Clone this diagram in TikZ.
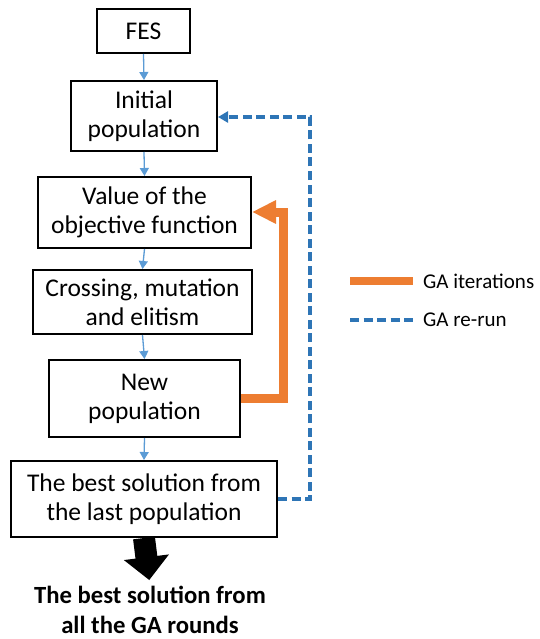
\documentclass[tikz,border=0pt]{standalone}
\usepackage{fontspec}
\setmainfont{Carlito}
\usetikzlibrary{arrows.meta}
\definecolor{gaorange}{HTML}{ED7D31}
\definecolor{gablue}{HTML}{2E75B6}
\definecolor{flowblue}{HTML}{5B9BD5}
\begin{document}
\begin{tikzpicture}[x=1pt,y=-1pt,
  box/.style={draw=black,line width=2pt,align=center,inner sep=0pt,
    font=\fontsize{25.5}{29}\selectfont},
  flow/.style={draw=flowblue,line width=1.3pt,-{Triangle[width=9pt,length=8pt]}},
  iter/.style={draw=gaorange,line width=9pt},
  rerun/.style={draw=gablue,line width=3.2pt,dash pattern=on 9pt off 4.5pt},
  legtext/.style={anchor=west,inner sep=0pt,font=\fontsize{21}{25}\selectfont}]
\useasboundingbox (0,0) rectangle (539,639);
\node[box,minimum width=93pt,minimum height=44pt] (fes) at (143.5,31) {FES};
\node[box,minimum width=146pt,minimum height=70pt] (init) at (144,116) {Initial\\population};
\node[box,minimum width=213pt,minimum height=71pt] (val) at (144.5,212.5) {Value of the\\objective function};
\node[box,minimum width=219pt,minimum height=64pt] (cross) at (142.5,302) {Crossing, mutation\\and elitism};
\node[box,minimum width=191pt,minimum height=77pt] (new) at (144.5,398.5) {New\\population};
\node[box,minimum width=266pt,minimum height=76pt] (best) at (144,499) {The best solution from\\the last population};
\node[align=center,inner sep=0pt,font=\fontsize{24.7}{30}\selectfont\bfseries] (final) at (150,610) {The best solution from\\all the GA rounds};
\draw[flow] (fes.south) -- (init.north);
\draw[flow] (init.south) -- (val.north);
\draw[flow] (val.south) -- (cross.north);
\draw[flow] (cross.south) -- (new.north);
\draw[flow] (new.south) -- (best.north);
\draw[line width=22pt,-{Triangle[width=44pt,length=23pt]},shorten >=6pt] (best.south) -- (final.north);
\coordinate (oc) at (283,212);
\draw[iter,-{Triangle[width=22pt,length=24pt]}] (new.east) -| (oc) -- (val.east |- oc);
\coordinate (bc) at (310,117);
\draw[rerun,-{Triangle[width=11pt,length=10pt]}] (best.east) -| (bc) -- (init.east |- bc);
\coordinate (l1a) at (350,281);
\coordinate (l1b) at (413,281);
\coordinate (l2a) at (350,320);
\coordinate (l2b) at (413,320);
\draw[iter,line width=8pt] (l1a) -- (l1b);
\draw[rerun] (l2a) -- (l2b);
\node[legtext] (lt1) at (423,281) {GA iterations};
\node[legtext] (lt2) at (423,320) {GA re-run};
\end{tikzpicture}
\end{document}
